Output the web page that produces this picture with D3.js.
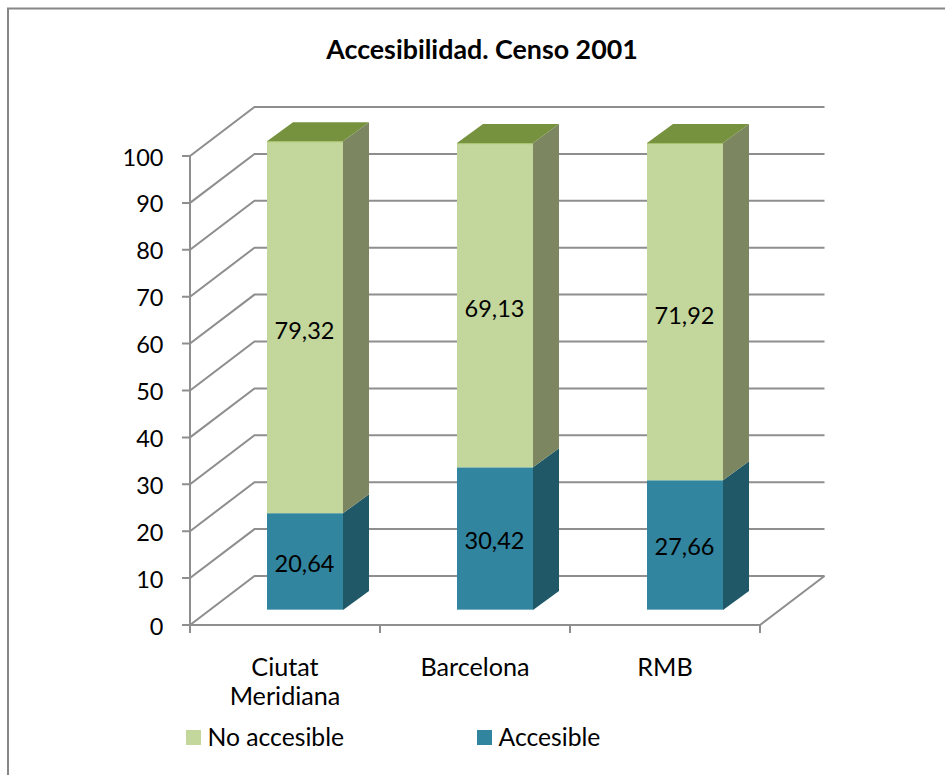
<!DOCTYPE html>
<html>
<head>
<meta charset="utf-8">
<script src="https://cdn.jsdelivr.net/npm/d3@7"></script>
<style>
html, body { margin: 0; padding: 0; background: #fff; }
svg { display: block; }
text { font-family: Lato, "Open Sans", sans-serif; fill: #000; }
</style>
</head>
<body>
<div id="chart"></div>
<script>
var categories = ["Ciutat Meridiana", "Barcelona", "RMB"];
var accesible = [20.64, 30.42, 27.66];
var noAccesible = [79.32, 69.13, 71.92];
var yTicks = [0, 10, 20, 30, 40, 50, 60, 70, 80, 90, 100];
var seriesNames = ["No accesible", "Accesible"];
var title = "Accesibilidad. Censo 2001";

var width = 945, height = 775;

var svg = d3.select("#chart").append("svg")
    .attr("width", width)
    .attr("height", height);

// frame, only top and left show in the crop
svg.append("path")
    .attr("d", "M8,775V8.5H945")
    .attr("fill", "none")
    .attr("stroke", "#868686")
    .attr("stroke-width", 2);

svg.append("text")
    .attr("x", 482)
    .attr("y", 59)
    .attr("text-anchor", "middle")
    .attr("font-size", 26.8)
    .attr("font-weight", "bold")
    .text(title);

// scales, on the front plane of the box
var x = d3.scaleBand().domain(categories).range([190, 760]).paddingInner(0.6).paddingOuter(0.3);
var y = d3.scaleLinear().domain([0, 100]).range([625, 156]);

// 3d offsets
var wall = {dx: 64.5, dy: -49};
var barFront = {dx: 20, dy: -15};
var barDepth = {dx: 26, dy: -19};

var gridColor = "#8e8e8e";
var grid = svg.append("g").attr("fill", "none").attr("stroke", gridColor).attr("stroke-width", 2);

yTicks.forEach(function (t) {
    grid.append("path")
        .attr("d", "M" + (x.range()[0] - 8) + "," + y(t)
            + "H" + x.range()[0]
            + "L" + (x.range()[0] + wall.dx) + "," + (y(t) + wall.dy)
            + "H" + (x.range()[1] + wall.dx));
});
// y axis line
grid.append("line")
    .attr("x1", x.range()[0]).attr("x2", x.range()[0])
    .attr("y1", y(100)).attr("y2", y(0) + 7);
// floor front and right edges
grid.append("path")
    .attr("d", "M" + x.range()[0] + "," + y(0)
        + "H" + x.range()[1]
        + "L" + (x.range()[1] + wall.dx) + "," + (y(0) + wall.dy));
// category ticks
d3.range(4).forEach(function (i) {
    var tx = x.range()[0] + i * x.step();
    grid.append("line")
        .attr("x1", tx).attr("x2", tx)
        .attr("y1", y(0)).attr("y2", y(0) + 8);
});

svg.append("g").selectAll("text")
    .data(yTicks)
    .enter().append("text")
    .attr("x", 163.5)
    .attr("y", function (d) { return y(d) + 9.5; })
    .attr("text-anchor", "end")
    .attr("font-size", 23.5)
    .text(function (d) { return d; });

// one stacked 3d segment
var drawSegment = function (g, left, v0, v1, colors) {
    var bw = x.bandwidth();
    var fx = left + barFront.dx;
    var y0 = y(v0) + barFront.dy;
    var y1 = y(v1) + barFront.dy;
    var ddx = barDepth.dx, ddy = barDepth.dy;
    g.append("rect")
        .attr("x", fx).attr("y", y1)
        .attr("width", bw).attr("height", y0 - y1)
        .attr("fill", colors.front);
    g.append("path")
        .attr("d", "M" + (fx + bw) + "," + y1 + "l" + ddx + "," + ddy + "V" + (y0 + ddy) + "l" + (-ddx) + "," + (-ddy) + "Z")
        .attr("fill", colors.side);
    if (colors.top) {
        g.append("path")
            .attr("d", "M" + fx + "," + y1 + "l" + ddx + "," + ddy + "h" + bw + "l" + (-ddx) + "," + (-ddy) + "Z")
            .attr("fill", colors.top);
        // thin light bevel on the top edge
        g.append("line")
            .attr("x1", fx).attr("x2", fx + bw)
            .attr("y1", y1 + 0.5).attr("y2", y1 + 0.5)
            .attr("stroke", colors.edge);
    } else {
        g.append("line")
            .attr("x1", fx).attr("x2", fx + bw)
            .attr("y1", y0 - 0.5).attr("y2", y0 - 0.5)
            .attr("stroke", colors.edge);
    }
};

var blue = {front: "#31859f", side: "#205867", edge: "#78b0c2"};
var green = {front: "#c3d69b", side: "#7c8761", top: "#77923e", edge: "#a5c16c"};

categories.forEach(function (c, i) {
    var g = svg.append("g");
    var left = x(c);
    drawSegment(g, left, 0, accesible[i], blue);
    drawSegment(g, left, accesible[i], accesible[i] + noAccesible[i], green);

    var cx = left + barFront.dx + x.bandwidth() / 2 - 0.5;
    g.append("text")
        .attr("x", cx)
        .attr("y", (y(0) + y(accesible[i])) / 2 + barFront.dy + 10)
        .attr("text-anchor", "middle")
        .attr("font-size", 23.5)
        .text(String(accesible[i]).replace(".", ","));
    g.append("text")
        .attr("x", cx)
        .attr("y", (y(accesible[i]) + y(accesible[i] + noAccesible[i])) / 2 + barFront.dy + 12)
        .attr("text-anchor", "middle")
        .attr("font-size", 23.5)
        .text(String(noAccesible[i]).replace(".", ","));
});

// category labels, first one wraps
categories.forEach(function (c) {
    var lines = c === "Ciutat Meridiana" ? c.split(" ") : [c];
    lines.forEach(function (l, j) {
        svg.append("text")
            .attr("x", x(c) + x.bandwidth() / 2)
            .attr("y", 676 + j * 29)
            .attr("text-anchor", "middle")
            .attr("font-size", 25.2)
            .text(l);
    });
});

// legend
var legendX = [186, 477];
var legendColors = [green.front, blue.front];
seriesNames.forEach(function (s, i) {
    svg.append("rect")
        .attr("x", legendX[i]).attr("y", 730)
        .attr("width", 15).attr("height", 15)
        .attr("fill", legendColors[i]);
    svg.append("text")
        .attr("x", legendX[i] + 21.5)
        .attr("y", 745.5)
        .attr("font-size", 24.7)
        .text(s);
});
</script>
</body>
</html>
